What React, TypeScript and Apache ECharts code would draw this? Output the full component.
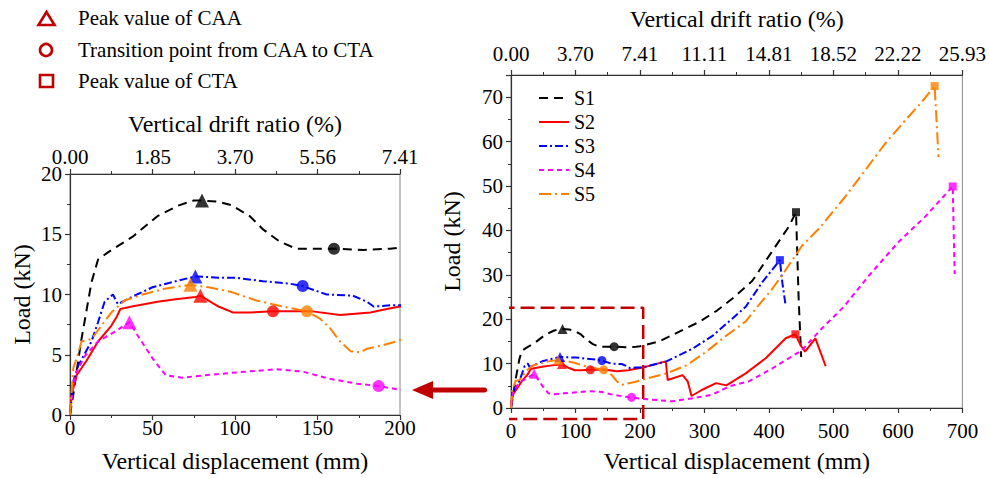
import React, { useEffect, useRef } from 'react';
import * as echarts from 'echarts';

const seriesNames = ['S1', 'S2', 'S3', 'S4', 'S5'];
const seriesColors = ['#000000', '#ff0000', '#0000ff', '#ff00ff', '#ff8000'];
const seriesDash: (number[] | 'solid')[] = [[9, 6], 'solid', [8, 3, 2, 3], [5, 4], [12, 4, 2, 4]];

// displacement (mm), load (kN)
const s1: number[][] = [
  [0, 0], [2, 1.7], [6.7, 6.1], [13, 11], [17, 12.9], [23, 13.5], [38, 14.8], [53, 16.5], [66, 17.4],
  [75, 17.8], [80, 17.8], [90, 17.7], [98, 17.4], [109, 16.5], [117, 15.4], [127, 14.4], [137, 13.8],
  [145, 13.8], [160, 13.8], [178, 13.7], [194, 13.8], [200, 13.9], [230, 15], [261, 17.2], [292, 19.4],
  [320, 22], [343, 24.6], [374, 28.6], [400, 34.2], [431, 40.9], [442, 44.1], [446, 25], [450, 11.5],
];
const s2: number[][] = [
  [0, 0], [1, 1.7], [4, 3.3], [10, 4.5], [17, 6.1], [25, 7.4], [28.5, 8.2], [30.5, 8.8], [37.5, 9.0],
  [53, 9.4], [64, 9.6], [76, 9.8], [79, 9.9], [90, 9.0], [99, 8.5], [109, 8.5], [123, 8.6], [147, 8.6],
  [163.6, 8.3], [182, 8.5], [192, 8.8], [200, 9.0], [204, 9.1], [240, 10.5], [243, 6.3], [266, 7.4],
  [274, 6], [280, 2.7], [295, 4], [318, 5.6], [334, 5.1], [364, 7.8], [395, 11.2], [426, 15.7],
  [441, 16.6], [450, 13.9], [456, 12.7], [472, 15.7], [488, 9.4],
];
const s3: number[][] = [
  [0, 0], [2, 2.8], [5, 4.1], [13, 6.1], [17, 7.7], [21, 9.4], [26, 10.0], [29, 9.2], [37.5, 9.8],
  [50, 10.6], [64, 11.1], [76, 11.5], [90, 11.4], [100, 11.4], [117, 11.1], [133, 10.9], [141, 10.7],
  [155.5, 10.0], [171.5, 9.9], [180, 9.4], [184, 9.0], [194, 9.1], [204, 9.1], [241, 10.5], [282, 13.4],
  [313, 16.3], [343, 20.1], [364, 22.8], [390, 28.4], [417, 33.3], [421, 28], [426, 23],
];
const s4: number[][] = [
  [0, 0.5], [3, 3.3], [9, 4.9], [17, 6.1], [27, 6.9], [36, 7.7], [41, 6.6], [50, 4.7], [58, 3.3],
  [68, 3.1], [82, 3.3], [98, 3.5], [125, 3.8], [141, 3.6], [157.6, 3.0], [174, 2.6], [187, 2.4],
  [200, 2.1], [250, 1.5], [282, 2.2], [312, 3.0], [339, 4.9], [369, 6.0], [405, 8.9], [451, 13],
  [482, 17.9], [516, 22.8], [555, 29.8], [601, 37.4], [643, 43.2], [685, 49.9], [688, 30.2],
];
const s5: number[][] = [
  [0, 0], [2, 3.9], [4, 4.7], [7, 6.1], [13, 6.3], [19, 7.4], [25, 8.5], [33, 9.5], [44, 10.0],
  [58, 10.5], [73, 10.8], [84, 10.6], [98, 10.2], [113, 9.5], [129, 9.0], [143.6, 8.6], [151.5, 8.0],
  [157.6, 7.2], [163.6, 6.1], [170, 5.3], [176, 5.2], [180, 5.5], [190, 5.8], [200, 6.2], [241, 7.8],
  [272, 9.6], [303, 12.7], [334, 16.3], [364, 19.5], [382, 22.8], [405, 26.8], [420, 29.8],
  [451, 36.5], [477, 40.3], [519, 47.7], [550, 53.7], [581, 59.7], [612, 64.9], [637, 68.9],
  [657, 72.5], [663, 56.5],
];
const seriesData = [s1, s2, s3, s4, s5];

const peakCAA: number[][] = [[80, 17.8], [79, 9.9], [76, 11.5], [36, 7.7], [73, 10.8]];
const transitionPts: number[][] = [[160, 13.8], [123, 8.6], [141, 10.7], [187, 2.4], [143.6, 8.6]];
const peakCTA: number[][] = [[442, 44.1], [441, 16.6], [417, 33.3], [685, 49.9], [657, 72.5]];

const leftDriftLabels = ['0.00', '1.85', '3.70', '5.56', '7.41'];
const rightDriftLabels = ['0.00', '3.70', '7.41', '11.11', '14.81', '18.52', '22.22', '25.93'];

const zoomBoxX = [-12, 205, 205, -12, -12];
const zoomBoxY = [-2.5, -2.5, 22.6, 22.6, -2.5];

const markerLegend = ['Peak value of CAA', 'Transition point from CAA to CTA', 'Peak value of CTA'];

const FONT = "'Liberation Serif', 'Times New Roman', Times, serif";
const AXIS_COLOR = '#333';

function xAxisCfg(grid: number, max: number, interval: number, top: boolean, labels: string[] | null, name: string, nameGap: number, margin: number) {
  return {
    type: 'value',
    gridIndex: grid,
    position: top ? 'top' : 'bottom',
    min: 0,
    max,
    interval,
    name,
    nameLocation: 'middle',
    nameGap,
    nameTextStyle: { fontFamily: FONT, fontSize: 24, color: '#000' },
    axisLine: { show: true, onZero: false, lineStyle: { color: AXIS_COLOR, width: 1.2 } },
    axisTick: { show: true, inside: false, length: 5, lineStyle: { color: AXIS_COLOR, width: 1.2 } },
    minorTick: { show: true, splitNumber: 2, length: 3, lineStyle: { color: AXIS_COLOR, width: 1 } },
    splitLine: { show: false },
    axisLabel: {
      fontFamily: FONT,
      fontSize: 21,
      lineHeight: 17,
      color: '#000',
      margin,
      formatter: (v: number) => (labels ? labels[Math.round(v / interval)] ?? '' : String(v)),
    },
  };
}

function yAxisCfg(grid: number, max: number, interval: number, nameGap: number) {
  return {
    type: 'value',
    gridIndex: grid,
    position: 'left',
    min: 0,
    max,
    interval,
    name: 'Load (kN)',
    nameLocation: 'middle',
    nameGap,
    nameTextStyle: { fontFamily: FONT, fontSize: 24, color: '#000' },
    axisLine: { show: true, onZero: false, lineStyle: { color: AXIS_COLOR, width: 1.2 } },
    axisTick: { show: true, inside: false, length: 5, lineStyle: { color: AXIS_COLOR, width: 1.2 } },
    minorTick: { show: true, splitNumber: 2, length: 3, lineStyle: { color: AXIS_COLOR, width: 1 } },
    splitLine: { show: false },
    axisLabel: {
      fontFamily: FONT,
      fontSize: 21,
      lineHeight: 16,
      color: '#000',
      margin: 8,
      showMaxLabel: max % interval === 0,
      formatter: (v: number) => (v % interval === 0 ? String(v) : ''),
    },
  };
}

export default function App() {
  const ref = useRef<HTMLDivElement>(null);
  useEffect(() => {
    if (!ref.current) return;
    const chart = echarts.init(ref.current, null, { renderer: 'svg' });

    const lineSeries: any[] = [];
    [0, 1].forEach((g) => {
      seriesNames.forEach((n, i) => {
        lineSeries.push({
          type: 'line',
          name: n,
          xAxisIndex: g === 0 ? 0 : 2,
          yAxisIndex: g,
          data: seriesData[i],
          symbol: 'none',
          smooth: false,
          lineStyle: { color: seriesColors[i], width: 2, type: seriesDash[i] },
          itemStyle: { color: seriesColors[i] },
          z: 2,
        });
      });
    });

    const markerSeries: any[] = [];
    const sets: [number[][], string, number[]][] = [
      [peakCAA, 'triangle', [14, 10]],
      [transitionPts, 'circle', [12, 9]],
      [peakCTA, 'rect', [9, 8]],
    ];
    [0, 1].forEach((g) => {
      sets.forEach(([pts, sym, sizes], k) => {
        markerSeries.push({
          type: 'scatter',
          name: 'marker-' + k + '-' + g,
          xAxisIndex: g === 0 ? 0 : 2,
          yAxisIndex: g,
          symbol: sym,
          symbolSize: sizes[g],
          data: pts.map((p, i) => ({ value: p, itemStyle: { color: seriesColors[i] } })),
          z: 5,
        });
      });
    });

    const boxSeries = {
      type: 'line',
      name: 'zoom-box',
      xAxisIndex: 2,
      yAxisIndex: 1,
      data: zoomBoxX.map((x, i) => [x, zoomBoxY[i]]),
      symbol: 'none',
      clip: false,
      lineStyle: { color: '#c00000', width: 2.5, type: [14, 6] },
      z: 1,
    };

    const mk = '#c00000';
    const graphic: any[] = [
      { type: 'polygon', shape: { points: [[38.5, 25], [54.5, 25], [46.5, 12]] }, style: { fill: 'none', stroke: mk, lineWidth: 2.6 } },
      { type: 'circle', shape: { cx: 46, cy: 50, r: 6 }, style: { fill: 'none', stroke: mk, lineWidth: 2.6 } },
      { type: 'rect', shape: { x: 40, y: 75, width: 13, height: 12 }, style: { fill: 'none', stroke: mk, lineWidth: 2.6 } },
      ...markerLegend.map((t, i) => ({
        type: 'text',
        x: 78,
        y: [18, 50, 81][i],
        style: { text: t, fontFamily: FONT, fontSize: 21, fill: '#000', verticalAlign: 'middle', align: 'left' },
      })),
      { type: 'polygon', shape: { points: [[412, 390], [433, 381], [433, 399]] }, style: { fill: mk } },
      { type: 'rect', shape: { x: 430, y: 387.5, width: 57, height: 5, r: 2.5 }, style: { fill: mk } },
    ];

    chart.setOption({
      animation: false,
      backgroundColor: '#fff',
      textStyle: { fontFamily: FONT },
      grid: [
        { left: 70, right: 589, top: 174, bottom: 61, show: true, borderColor: '#888', borderWidth: 1, backgroundColor: 'transparent' },
        { left: 511, right: 25, top: 75, bottom: 68, show: true, borderColor: '#888', borderWidth: 1, backgroundColor: 'transparent' },
      ],
      xAxis: [
        xAxisCfg(0, 200, 50, false, null, 'Vertical displacement (mm)', 34, 4),
        xAxisCfg(0, 200, 50, true, leftDriftLabels, 'Vertical drift ratio (%)', 38, 9),
        xAxisCfg(1, 700, 100, false, null, 'Vertical displacement (mm)', 41, 14),
        xAxisCfg(1, 700, 100, true, rightDriftLabels, 'Vertical drift ratio (%)', 44, 13),
      ],
      yAxis: [yAxisCfg(0, 20, 5, 36), yAxisCfg(1, 75, 10, 47)],
      legend: {
        data: seriesNames,
        orient: 'vertical',
        left: 533,
        top: 83,
        itemWidth: 30,
        itemHeight: 14,
        itemGap: 4,
        itemStyle: { opacity: 0 },
        textStyle: { fontFamily: FONT, fontSize: 20, color: '#000' },
      },
      series: [...lineSeries, boxSeries, ...markerSeries],
      graphic,
    });
    return () => chart.dispose();
  }, []);
  return <div ref={ref} style={{ width: 989, height: 478, position: 'absolute', left: 0, top: 0 }} />;
}
